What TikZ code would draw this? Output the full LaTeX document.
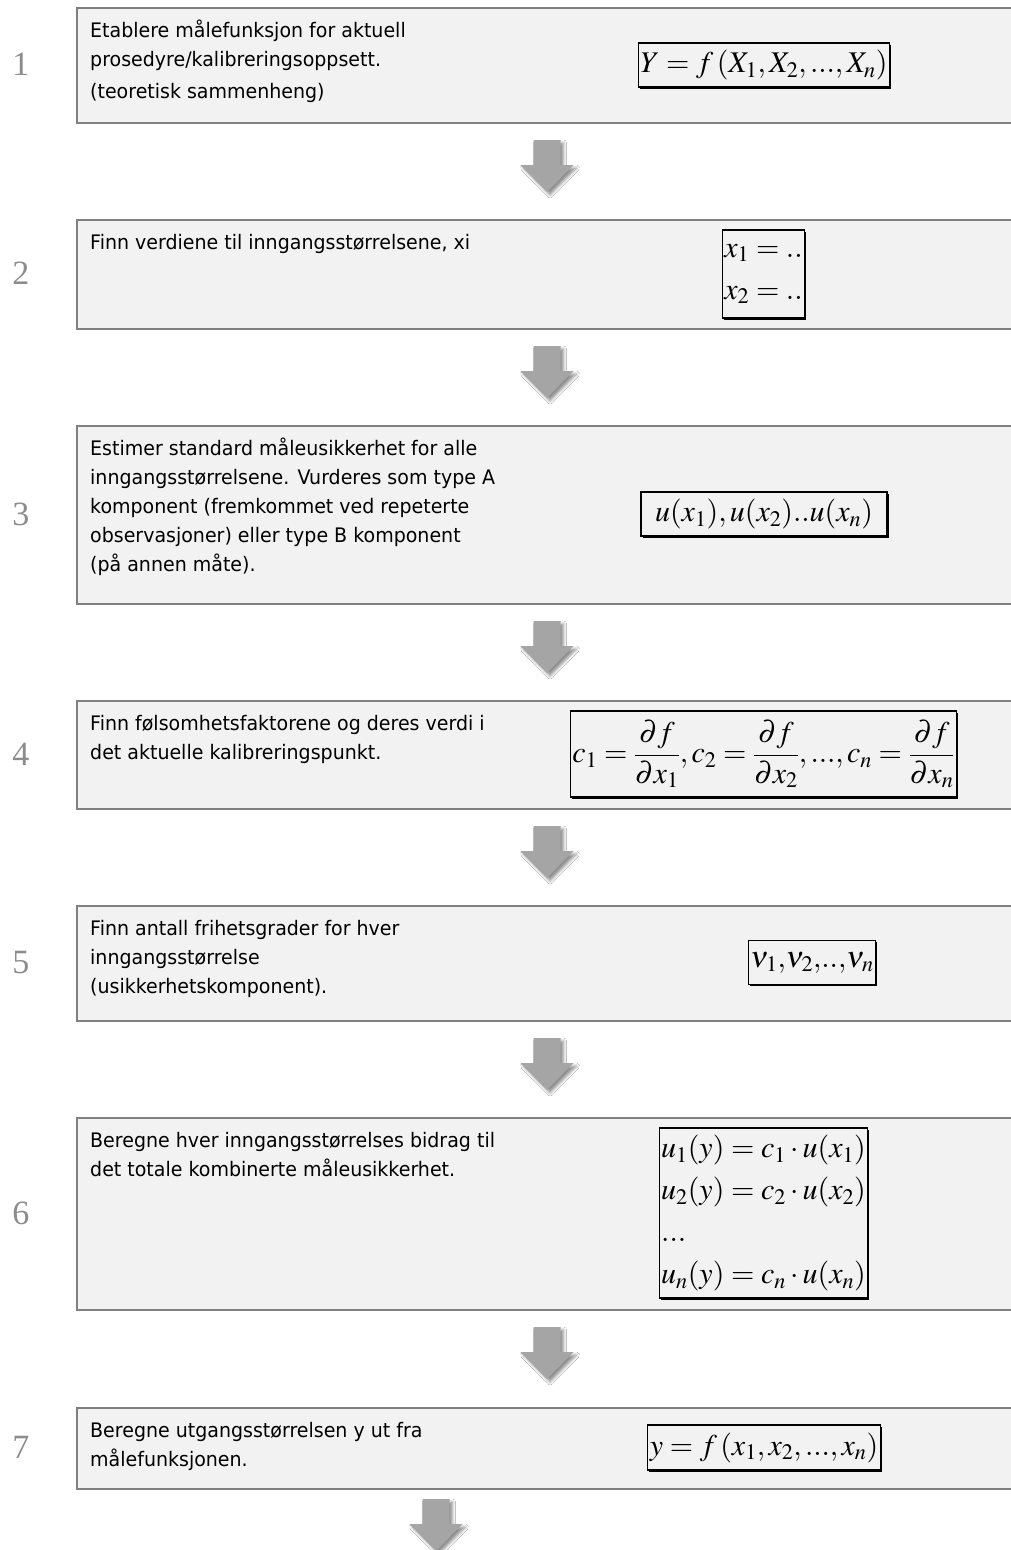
\documentclass[tikz,border=0pt]{standalone}
\usepackage{amsmath}
\usepackage{mathptmx}
\usepackage[no-math]{fontspec}
\setmainfont{DejaVu Sans}[FakeStretch=0.95]
\newfontfamily\numfont{Liberation Serif}
\usetikzlibrary{calc,shadows,shadows.blur}
\definecolor{boxfill}{HTML}{F2F2F2}
\definecolor{boxline}{HTML}{808080}
\definecolor{arrfill}{HTML}{A5A5A5}
\definecolor{numcol}{HTML}{8C8C8C}
\begin{document}
\begin{tikzpicture}[x=1pt,y=-1pt,
  stepbox/.style={draw=boxline, line width=2pt, fill=boxfill, rectangle, minimum width=940pt, anchor=north west, inner sep=0pt},
  txt/.style={anchor=base west, inner sep=0pt, font=\fontsize{20}{29}\selectfont, text=black},
  num/.style={font=\numfont\fontsize{34}{34}\selectfont, text=numcol, inner sep=0pt},
  fbox/.style={draw=black, line width=1.3pt, fill=boxfill, inner xsep=2pt, inner ysep=0pt, align=left,
    font=\fontsize{30}{42}\selectfont,
    drop shadow={shadow xshift=1.6pt, shadow yshift=-1.6pt, opacity=1, fill=black}},
  downarr/.pic={\fill[arrfill, blur shadow={shadow xshift=3pt, shadow yshift=-3pt, shadow blur radius=3pt, shadow opacity=45}]
     (-13.5,0) -- (13.5,0) -- (13.5,25) -- (26.5,25) -- (0,52) -- (-26.5,25) -- (-13.5,25) -- cycle;}
]
\fill[white] (0,0) rectangle (1011,1550);
\useasboundingbox (0,0) rectangle (1011,1550);

% boxes
\node[stepbox, minimum height=115pt] (b1) at (76,7) {};
\node[stepbox, minimum height=109pt] (b2) at (76,219) {};
\node[stepbox, minimum height=178pt] (b3) at (76,425) {};
\node[stepbox, minimum height=108pt] (b4) at (76,700) {};
\node[stepbox, minimum height=115pt] (b5) at (76,905) {};
\node[stepbox, minimum height=192pt] (b6) at (76,1117) {};
\node[stepbox, minimum height=81pt]  (b7) at (76,1407) {};

% numbers
\node[num] (n1) at (21,64.5) {1};
\node[num] (n2) at (21,273.5) {2};
\node[num] (n3) at (21,514) {3};
\node[num] (n4) at (21,754) {4};
\node[num] (n5) at (21,962.5) {5};
\node[num] (n6) at (21,1213) {6};
\node[num] (n7) at (21,1447.5) {7};

% texts
\node[txt] (t1a) at (90,37) {Etablere målefunksjon for aktuell};
\node[txt] (t1b) at (90,66) {prosedyre/kalibreringsoppsett.};
\node[txt] (t1c) at (90,98) {(teoretisk sammenheng)};
\node[txt] (t2a) at (90,249) {Finn verdiene til inngangsstørrelsene, xi};
\node[txt] (t3a) at (90,455) {Estimer standard måleusikkerhet for alle};
\node[txt] (t3b) at (90,484) {inngangsstørrelsene. Vurderes som type A};
\node[txt] (t3c) at (90,513) {komponent (fremkommet ved repeterte};
\node[txt] (t3d) at (90,542) {observasjoner) eller type B komponent};
\node[txt] (t3e) at (90,571) {(på annen måte).};
\node[txt] (t4a) at (90,730) {Finn følsomhetsfaktorene og deres verdi i};
\node[txt] (t4b) at (90,759) {det aktuelle kalibreringspunkt.};
\node[txt] (t5a) at (90,935) {Finn antall frihetsgrader for hver};
\node[txt] (t5b) at (90,964) {inngangsstørrelse};
\node[txt] (t5c) at (90,993) {(usikkerhetskomponent).};
\node[txt] (t6a) at (90,1147) {Beregne hver inngangsstørrelses bidrag til};
\node[txt] (t6b) at (90,1176) {det totale kombinerte måleusikkerhet.};
\node[txt] (t7a) at (90,1437) {Beregne utgangsstørrelsen y ut fra};
\node[txt] (t7b) at (90,1466) {målefunksjonen.};

% formulas
\node[fbox, minimum width=242pt, minimum height=44pt] (f1) at (764,65)
  {$Y = f\,(X_1, X_2,..., X_n)$};
\node[fbox, minimum width=71pt, minimum height=88pt] (f2) at (763.5,274)
  {$x_1 = ..$\\$x_2 = ..$};
\node[fbox, minimum width=246pt, minimum height=44pt] (f3) at (764,514)
  {$u(x_1),u(x_2)..u(x_n)$};
\node[fbox, minimum width=333pt, minimum height=86pt] (f4) at (763.5,754)
  {$c_1 = \dfrac{\partial f}{\partial x_1},c_2 = \dfrac{\partial f}{\partial x_2},..., c_n = \dfrac{\partial f}{\partial x_n}$};
\node[fbox, minimum width=110pt, minimum height=44pt] (f5) at (812,962.5)
  {$\nu_1{,}\nu_2{,}..{,}\nu_n$};
\node[fbox, minimum width=201pt, minimum height=170pt] (f6) at (763.5,1213)
  {$u_1(y) = c_1\cdot u(x_1)$\\$u_2(y) = c_2\cdot u(x_2)$\\$...$\\$u_n(y) = c_n\cdot u(x_n)$};
\node[fbox, minimum width=218pt, minimum height=45pt] (f7) at (764,1447.5)
  {$y = f\,(x_1, x_2,..., x_n)$};

% block arrows
\pic at ($(b1.south)+(0,16)$) {downarr};
\pic at ($(b2.south)+(0,16)$) {downarr};
\pic at ($(b3.south)+(0,16)$) {downarr};
\pic at ($(b4.south)+(0,16)$) {downarr};
\pic at ($(b5.south)+(0,16)$) {downarr};
\pic at ($(b6.south)+(0,16)$) {downarr};
\pic at ($(b7.south)+(-111,9)$) {downarr};
\end{tikzpicture}
\end{document}
